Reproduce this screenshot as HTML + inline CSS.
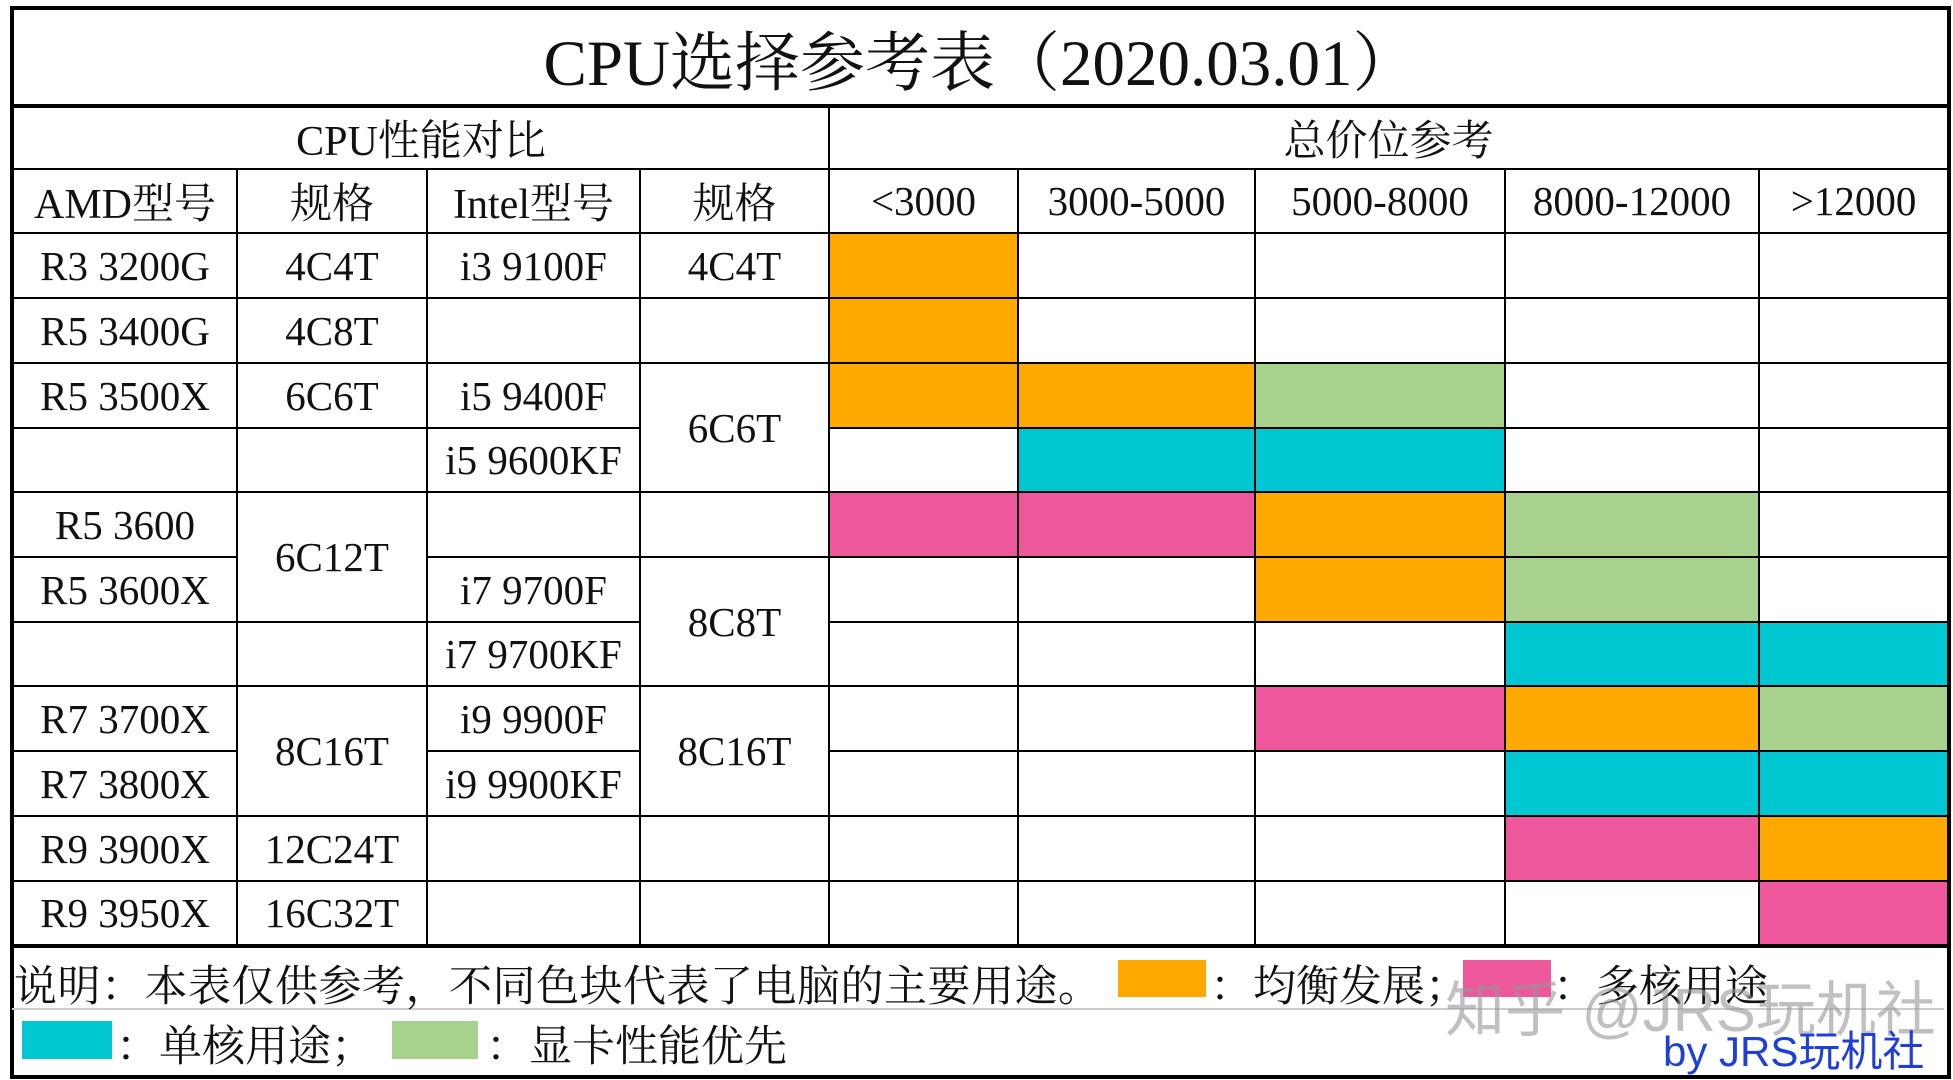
<!DOCTYPE html>
<html><head><meta charset="utf-8">
<style>
html,body{margin:0;padding:0;background:#fff;}
body{width:1953px;height:1080px;position:relative;overflow:hidden;font-family:"Liberation Serif","Noto Serif CJK SC",serif;color:#111;}
table{position:absolute;left:10px;top:6px;border-collapse:collapse;table-layout:fixed;width:1937px;height:1068px;border:4px solid #000;}
td{border:2px solid #000;text-align:center;vertical-align:middle;padding:0;font-size:41px;white-space:nowrap;}
.hd{font-size:42px;}
.O{background:#FFA800;}.G{background:#A9D18E;}.C{background:#00C8D2;}.P{background:#EF579C;}
.title{font-size:65px;border-bottom:4px solid #000;}
.foot{border-top:4px solid #000;}
.fx{position:absolute;font-size:43px;white-space:nowrap;}
.box{position:absolute;}
</style></head><body>
<table>
<colgroup><col style="width:225px"><col style="width:190px"><col style="width:213px"><col style="width:189px"><col style="width:189px"><col style="width:237px"><col style="width:250px"><col style="width:254px"><col style="width:190px"></colgroup>
<tr style="height:97px"><td colspan="9" class="title">CPU选择参考表（2020.03.01）</td></tr>
<tr style="height:63px"><td colspan="4" class="hd">CPU性能对比</td><td colspan="5" class="hd">总价位参考</td></tr>
<tr style="height:64px"><td class="hd">AMD型号</td><td class="hd">规格</td><td class="hd">Intel型号</td><td class="hd">规格</td><td>&lt;3000</td><td>3000-5000</td><td>5000-8000</td><td>8000-12000</td><td>&gt;12000</td></tr>
<tr style="height:65px"><td>R3 3200G</td><td>4C4T</td><td>i3 9100F</td><td>4C4T</td><td class="O"></td><td></td><td></td><td></td><td></td></tr>
<tr style="height:65px"><td>R5 3400G</td><td>4C8T</td><td></td><td></td><td class="O"></td><td></td><td></td><td></td><td></td></tr>
<tr style="height:65px"><td>R5 3500X</td><td>6C6T</td><td>i5 9400F</td><td rowspan="2">6C6T</td><td class="O"></td><td class="O"></td><td class="G"></td><td></td><td></td></tr>
<tr style="height:64px"><td></td><td></td><td>i5 9600KF</td><td></td><td class="C"></td><td class="C"></td><td></td><td></td></tr>
<tr style="height:65px"><td>R5 3600</td><td rowspan="2">6C12T</td><td></td><td></td><td class="P"></td><td class="P"></td><td class="O"></td><td class="G"></td><td></td></tr>
<tr style="height:65px"><td>R5 3600X</td><td>i7 9700F</td><td rowspan="2">8C8T</td><td></td><td></td><td class="O"></td><td class="G"></td><td></td></tr>
<tr style="height:64px"><td></td><td></td><td>i7 9700KF</td><td></td><td></td><td></td><td class="C"></td><td class="C"></td></tr>
<tr style="height:65px"><td>R7 3700X</td><td rowspan="2">8C16T</td><td>i9 9900F</td><td rowspan="2">8C16T</td><td></td><td></td><td class="P"></td><td class="O"></td><td class="G"></td></tr>
<tr style="height:65px"><td>R7 3800X</td><td>i9 9900KF</td><td></td><td></td><td></td><td class="C"></td><td class="C"></td></tr>
<tr style="height:65px"><td>R9 3900X</td><td>12C24T</td><td></td><td></td><td></td><td></td><td></td><td class="P"></td><td class="O"></td></tr>
<tr style="height:65px"><td>R9 3950X</td><td>16C32T</td><td></td><td></td><td></td><td></td><td></td><td></td><td class="P"></td></tr>
<tr style="height:131px"><td colspan="9" class="foot"></td></tr>
</table>
<div style="position:absolute;left:12px;top:1008px;width:1932px;height:2px;background:#ccc;"></div>
<div class="fx" style="left:14px;top:953px;letter-spacing:0.5px;">说明：本表仅供参考，不同色块代表了电脑的主要用途。</div>
<div class="box O" style="left:1118px;top:960px;width:88px;height:37px;"></div>
<div class="fx" style="left:1210px;top:953px;">：均衡发展；</div>
<div class="box P" style="left:1463px;top:960px;width:88px;height:37px;"></div>
<div class="fx" style="left:1553px;top:953px;">：多核用途</div>
<div class="box C" style="left:22px;top:1021px;width:90px;height:38px;"></div>
<div class="fx" style="left:116px;top:1013px;">：单核用途；</div>
<div class="box G" style="left:392px;top:1021px;width:86px;height:38px;"></div>
<div class="fx" style="left:486px;top:1013px;">：显卡性能优先</div>
<div class="fx" style="left:1445px;top:962px;font-size:60px;color:rgba(150,150,150,0.6);font-family:'Liberation Sans','Noto Sans CJK SC',sans-serif;">知乎 @JRS玩机社</div>
<div class="fx" style="left:1663px;top:1018px;font-size:42px;color:#1f3fd6;font-family:'Liberation Sans','Noto Sans CJK SC',sans-serif;">by JRS玩机社</div>
</body></html>
